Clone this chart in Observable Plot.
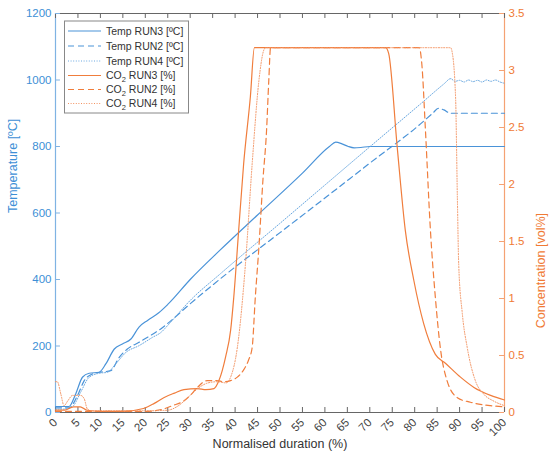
<!DOCTYPE html>
<html><head><meta charset="utf-8">
<script src="https://cdn.jsdelivr.net/npm/d3@7"></script>
<script src="https://cdn.jsdelivr.net/npm/@observablehq/plot@0.6"></script>
<style>body{margin:0;background:#fff}</style>
</head><body><div id="chart"></div>
<script>
// ---- data ----
const xTicks = d3.range(0, 101, 5);
const tempTicks = [0, 200, 400, 600, 800, 1000, 1200];
const concTicks = [0, 0.5, 1, 1.5, 2, 2.5, 3, 3.5];

const tRun3X = [0, 3, 4.5, 6, 7.5, 9.7, 11.2, 13.1, 14.9, 16.8, 18.6, 20.5, 23, 25, 30, 36.7, 45, 55, 61, 62.4, 63.8, 65.2, 66.5, 68, 70, 80, 90, 100];
const tRun3Y = [18, 18, 56, 106, 118, 121, 146, 191, 206, 221, 257, 277, 300, 325, 400, 489, 594, 720, 800, 813, 808, 800, 796, 797, 800, 800, 800, 800];

const tRun2X = [0, 3, 4.9, 6.4, 8.2, 9.9, 12.3, 14.2, 16, 18.6, 21.2, 23.5, 25, 30, 36.7, 50, 60, 70, 81.3, 84, 85.3, 86.5, 88, 90, 100];
const tRun2Y = [14, 14, 51, 96, 116, 121, 126, 166, 191, 211, 232, 252, 268, 327, 402, 541, 645, 750, 868, 900, 915, 910, 900, 900, 900];

const tRun4X = [0, 1.5, 3.8, 5.6, 7.5, 9.7, 11.6, 13.4, 15.7, 18.6, 21.6, 23.5, 25, 30, 36.7, 50, 60, 70, 81.3, 86.5, 88, 89, 90, 91, 92, 93, 94, 95, 96, 97, 98, 99, 100];
const tRun4Y = [10, 10, 18, 61, 106, 118, 121, 146, 181, 201, 226, 241, 262, 337, 417, 569, 684, 799, 928, 988, 1004, 996, 999, 994, 1000, 995, 999, 994, 1000, 996, 1000, 994, 990];

const cRun3X = [0, 2, 4, 5.5, 7, 10, 15, 19.6, 22, 24.1, 26.5, 28.6, 31.6, 33.5, 35.3, 36.4, 37.9, 39, 39.7, 40.8, 41.9, 43.4, 44.3, 50, 60, 70, 73.5, 74.2, 76.1, 77.9, 79.8, 82, 84.6, 86.9, 90.2, 93.2, 96.9, 100];
const cRun3Y = [0.02, 0.02, 0.05, 0.05, 0.02, 0.01, 0.01, 0.035, 0.08, 0.13, 0.17, 0.2, 0.21, 0.2, 0.21, 0.28, 0.49, 0.72, 1.01, 1.6, 2.18, 2.77, 3.2, 3.2, 3.2, 3.2, 3.2, 3.15, 2.33, 1.6, 1.16, 0.78, 0.51, 0.43, 0.31, 0.22, 0.15, 0.11];

const cRun2X = [0, 10, 20, 24, 26, 28.5, 30, 31.6, 33.8, 35.9, 37.5, 39, 40.5, 42, 43, 43.8, 44.5, 45.3, 46.2, 47, 47.5, 47.9, 60, 70, 81.0, 81.6, 82.4, 83.5, 84.6, 85.7, 87.2, 89.5, 92.4, 96.9, 100];
const cRun2Y = [0.01, 0.01, 0.01, 0.03, 0.06, 0.1, 0.15, 0.22, 0.28, 0.28, 0.27, 0.28, 0.31, 0.38, 0.46, 0.57, 1.01, 1.45, 2.04, 2.47, 2.91, 3.2, 3.2, 3.2, 3.2, 3.05, 2.47, 1.6, 1.01, 0.57, 0.28, 0.13, 0.09, 0.06, 0.05];

const cRun4X = [0, 0.4, 1.2, 1.9, 2.7, 3.8, 5.6, 6.4, 7.1, 8, 15, 20, 25, 27, 30, 32, 34, 36, 38, 39, 40.5, 42.3, 43.8, 45.3, 46.4, 46.8, 60, 70, 80, 88, 88.3, 89.1, 89.5, 89.8, 90.6, 91.7, 93.5, 95.4, 97.6, 100];
const cRun4Y = [0.27, 0.27, 0.16, 0.06, 0.1, 0.15, 0.15, 0.12, 0.03, 0.015, 0.015, 0.015, 0.02, 0.05, 0.15, 0.22, 0.26, 0.27, 0.26, 0.31, 0.57, 1.3, 2.18, 2.91, 3.18, 3.2, 3.2, 3.2, 3.2, 3.2, 3.17, 2.77, 1.89, 1.3, 0.87, 0.57, 0.28, 0.16, 0.1, 0.06];

const seriesNames = ["Temp RUN3 [ºC]", "Temp RUN2 [ºC]", "Temp RUN4 [ºC]", "CO2 RUN3 [%]", "CO2 RUN2 [%]", "CO2 RUN4 [%]"];

// ---- styles ----
const blue = "#4a93d8", blueText = "#3d8fd6", blueAxis = "#7fb3e3";
const orange = "#f07d3c", orangeText = "#f07a34", orangeAxis = "#f5a273";
const k = 1200 / 3.5; // concentration -> temperature scale units

const series = [
  {name: seriesNames[0], xs: tRun3X, ys: tRun3Y, m: 1, stroke: blue, dash: null, w: 1.2},
  {name: seriesNames[1], xs: tRun2X, ys: tRun2Y, m: 1, stroke: blue, dash: "6,4", w: 1.2},
  {name: seriesNames[2], xs: tRun4X, ys: tRun4Y, m: 1, stroke: "#6aa8e0", dash: "1,1.6", w: 1},
  {name: seriesNames[3], xs: cRun3X, ys: cRun3Y, m: k, stroke: orange, dash: null, w: 1.2},
  {name: seriesNames[4], xs: cRun2X, ys: cRun2Y, m: k, stroke: orange, dash: "6,4", w: 1.2},
  {name: seriesNames[5], xs: cRun4X, ys: cRun4Y, m: k, stroke: "#f39260", dash: "1,1.6", w: 1}
];

const font = "Liberation Sans, Arial, Helvetica, sans-serif";

const chart = Plot.plot({
  width: 550, height: 461,
  marginLeft: 55, marginRight: 46, marginTop: 13, marginBottom: 49,
  style: {fontFamily: font, fontSize: "11px", background: "white", overflow: "visible"},
  x: {domain: [0, 100]},
  y: {domain: [0, 1200]},
  marks: [
    Plot.ruleY([0, 1200], {stroke: "#666", strokeWidth: 1}),
    Plot.ruleX([0], {stroke: blueAxis, strokeWidth: 1.2}),
    Plot.ruleX([100], {stroke: orangeAxis, strokeWidth: 1.2}),
    // inward ticks
    Plot.ruleX(xTicks, {y1: 0, y2: 15, stroke: "#666"}),
    Plot.ruleX(xTicks, {y1: 1200, y2: 1185, stroke: "#666"}),
    Plot.ruleY(tempTicks, {x1: 0, x2: 1.1, stroke: blueAxis}),
    Plot.ruleY(concTicks.map(v => v * k), {x1: 100, x2: 98.9, stroke: orangeAxis}),
    // data lines
    ...series.map(s => Plot.line(s.xs.map((x, i) => ({x, y: s.ys[i] * s.m})), {
      x: "x", y: "y", stroke: s.stroke, strokeWidth: s.w, strokeDasharray: s.dash, curve: "monotone-x"
    })),
    // axes labels
    Plot.axisX({ticks: xTicks, tickSize: 0, tickPadding: 8, tickRotate: -45, color: "#444", fontSize: 11.5, label: null}),
    Plot.axisY({ticks: tempTicks, tickSize: 0, tickPadding: 4, tickFormat: d3.format("d"), color: blueText, fontSize: 11.5, label: null}),
    Plot.axisY({anchor: "right", ticks: concTicks.map(v => v * k), tickFormat: d => d3.format("~g")(+(d / k).toFixed(2)),
      tickSize: 0, tickPadding: 4, color: orangeText, fontSize: 11.5, label: null}),
    Plot.text(["Temperature [ºC]"], {frameAnchor: "left", dx: -43, rotate: -90, fill: blueText, fontSize: 12.5}),
    Plot.text(["Concentration [vol%]"], {frameAnchor: "right", dx: 36, rotate: -90, fill: orangeText, fontSize: 12.5}),
    Plot.text(["Normalised duration (%)"], {frameAnchor: "bottom", dy: 35, fill: "#333", fontSize: 12.5})
  ]
});

document.getElementById("chart").appendChild(chart);

// ---- legend (inside the plot area, top-left) ----
const svg = d3.select(chart);
const lg = svg.append("g").attr("font-family", font).attr("font-size", 10.5).attr("text-anchor", "start");
lg.append("rect").attr("x", 64.5).attr("y", 21).attr("width", 124).attr("height", 92)
  .attr("fill", "white").attr("stroke", "#888").attr("stroke-width", 1);
const rowY = [31, 46, 61, 75.5, 89.5, 103.5];
series.forEach((s, i) => {
  const y = rowY[i];
  lg.append("line").attr("x1", 68).attr("x2", 101).attr("y1", y).attr("y2", y)
    .attr("stroke", s.stroke).attr("stroke-width", s.w).attr("stroke-dasharray", s.dash);
  const t = lg.append("text").attr("x", 106).attr("y", y).attr("dy", "0.35em").attr("fill", "#333").attr("text-anchor", "start");
  if (s.name.startsWith("CO2")) {
    t.append("tspan").text("CO");
    t.append("tspan").text("2").attr("font-size", 7.5).attr("dy", "3");
    t.append("tspan").text(s.name.slice(3)).attr("dy", "-3");
  } else {
    t.text(s.name);
  }
});
</script>
</body></html>
